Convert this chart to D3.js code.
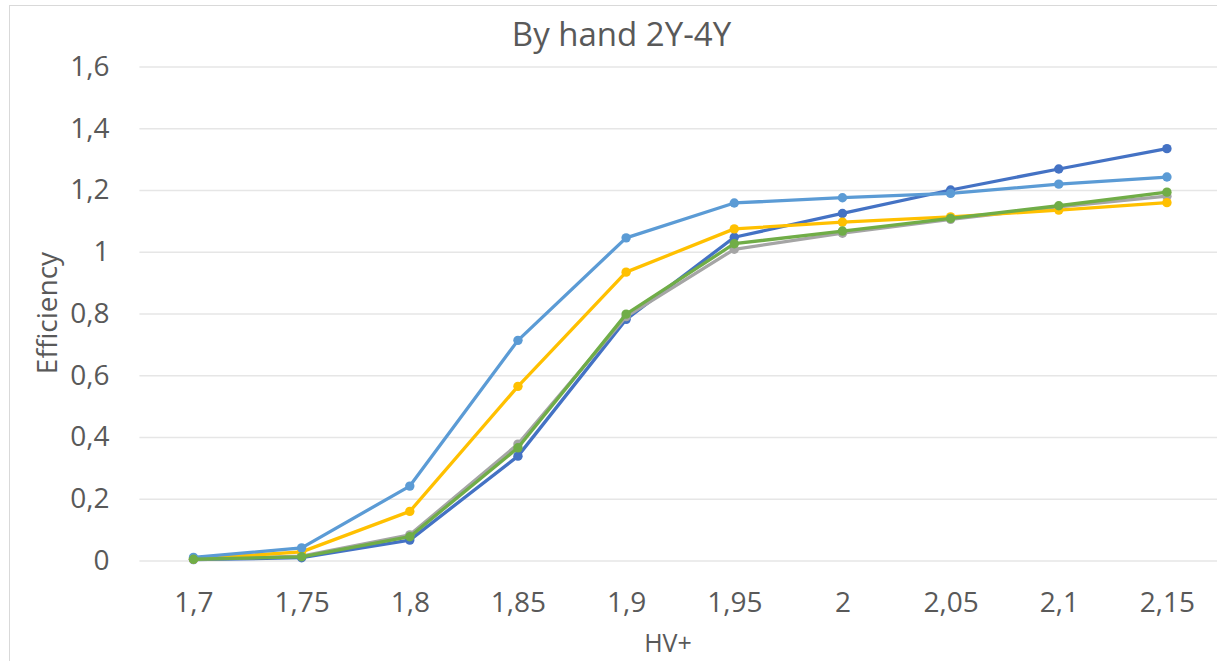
<!DOCTYPE html>
<html>
<head>
<meta charset="utf-8">
<script src="https://cdn.jsdelivr.net/npm/d3@7"></script>
<style>
  html, body { margin: 0; padding: 0; background: #fff; }
  svg { display: block; font-family: "Open Sans", "Liberation Sans", sans-serif; }
</style>
</head>
<body>
<svg id="chart" width="1217" height="661"></svg>
<script>
// HV+ settings on the category axis
const categories = ["1,7", "1,75", "1,8", "1,85", "1,9", "1,95", "2", "2,05", "2,1", "2,15"];

// Efficiency per series
const seriesA = [0.003, 0.009, 0.066, 0.338, 0.781, 1.047, 1.124, 1.200, 1.268, 1.334];
const seriesB = [0.004, 0.014, 0.083, 0.377, 0.790, 1.008, 1.060, 1.105, 1.145, 1.180];
const seriesC = [0.005, 0.028, 0.159, 0.564, 0.934, 1.074, 1.096, 1.113, 1.135, 1.159];
const seriesD = [0.010, 0.041, 0.241, 0.713, 1.045, 1.158, 1.175, 1.189, 1.219, 1.242];
const seriesE = [0.004, 0.012, 0.077, 0.365, 0.798, 1.026, 1.067, 1.108, 1.149, 1.193];

const yTicks = [0, 0.2, 0.4, 0.6, 0.8, 1, 1.2, 1.4, 1.6];

const series = [
  { values: seriesA, color: "#4472C4" },
  { values: seriesB, color: "#A5A5A5" },
  { values: seriesC, color: "#FFC000" },
  { values: seriesD, color: "#5B9BD5" },
  { values: seriesE, color: "#70AD47" }
];

const svg = d3.select("#chart");
const plot = { left: 139.4, right: 1221, top: 66.5, bottom: 560.5 };

// chart frame
svg.append("rect")
  .attr("x", 9.5).attr("y", 5.5)
  .attr("width", 1300).attr("height", 700)
  .attr("fill", "#fff").attr("stroke", "#d9d9d9").attr("stroke-width", 1);

const x = d3.scalePoint().domain(categories).range([plot.left, plot.right]).padding(0.5);
const y = d3.scaleLinear().domain([0, 1.6]).range([plot.bottom, plot.top]);

const fmt = v => String(+v.toFixed(1)).replace(".", ",");

// horizontal gridlines + y labels
const yAxis = d3.axisLeft(y).tickValues(yTicks).tickFormat(fmt)
  .tickSize(-(plot.right - plot.left)).tickPadding(30);
const gy = svg.append("g").attr("transform", `translate(${plot.left},0)`).call(yAxis);
gy.select(".domain").remove();
gy.selectAll(".tick line").attr("stroke", "#e6e6e6").attr("stroke-width", 1.3);
gy.selectAll(".tick text").attr("fill", "#595959").attr("font-size", 28)
  .attr("font-family", "'Open Sans', sans-serif");

// x labels
const xAxis = d3.axisBottom(x).tickSize(0).tickPadding(32);
const gx = svg.append("g").attr("transform", `translate(0,${plot.bottom})`).call(xAxis);
gx.select(".domain").remove();
gx.selectAll(".tick text").attr("fill", "#595959").attr("font-size", 28)
  .attr("font-family", "'Open Sans', sans-serif");

// lines and markers
const line = d3.line().x((d, i) => x(categories[i])).y(d => y(d));
series.forEach(s => {
  const g = svg.append("g");
  g.append("path").datum(s.values)
    .attr("d", line).attr("fill", "none")
    .attr("stroke", s.color).attr("stroke-width", 3.3)
    .attr("stroke-linejoin", "round").attr("stroke-linecap", "round");
  g.selectAll("circle").data(s.values).join("circle")
    .attr("cx", (d, i) => x(categories[i])).attr("cy", d => y(d))
    .attr("r", 4.7).attr("fill", s.color);
});

// titles
svg.append("text").attr("x", 621.5).attr("y", 46)
  .attr("text-anchor", "middle").attr("fill", "#595959")
  .attr("font-size", 33).text("By hand 2Y-4Y");

svg.append("text").attr("x", 668).attr("y", 652)
  .attr("text-anchor", "middle").attr("fill", "#595959")
  .attr("font-size", 25).text("HV+");

svg.append("text")
  .attr("transform", "translate(57,313) rotate(-90)")
  .attr("text-anchor", "middle").attr("fill", "#595959")
  .attr("font-size", 28).text("Efficiency");
</script>
</body>
</html>
